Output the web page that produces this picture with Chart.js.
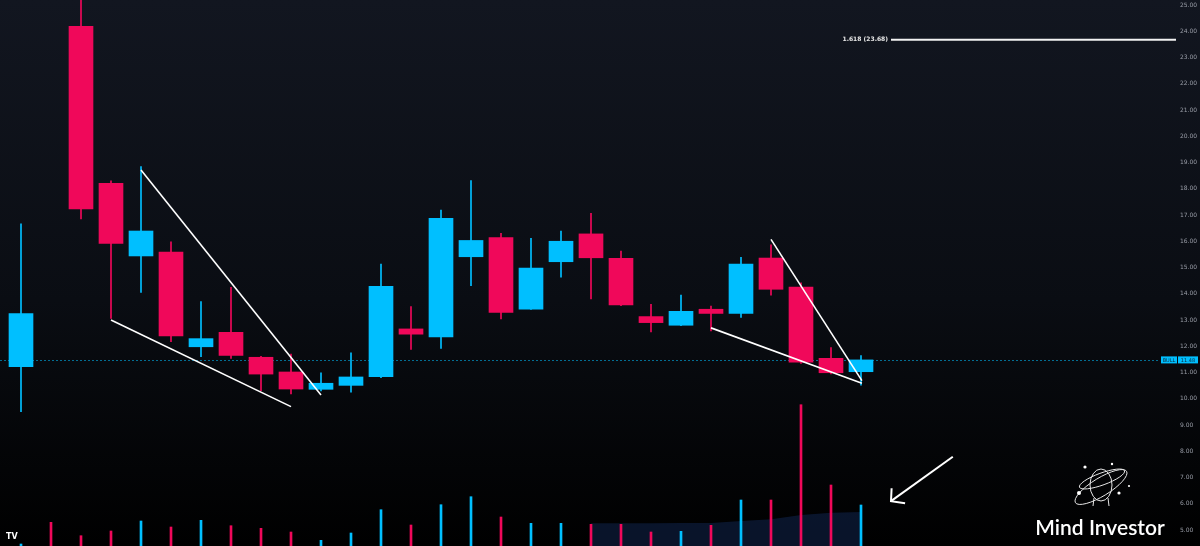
<!DOCTYPE html>
<html lang="en">
<head>
    <meta charset="UTF-8">
    <title>Mind Investor chart</title>
    <script src="https://cdn.jsdelivr.net/npm/chart.js"></script>
    <style>
        html, body {
            margin: 0;
            padding: 0;
            background: #000;
        }
        #wrap {
            width: 1200px;
            height: 546px;
        }
    </style>
</head>
<body>
    <div id="wrap"><canvas id="chart" width="1200" height="546"></canvas></div>

    <script>
        // candle index (x) and OHLC values
        const bars = [0, 1, 2, 3, 4, 5, 6, 7, 8, 9, 10, 11, 12, 13, 14, 15, 16, 17, 18, 19, 20, 21, 22, 23, 24, 25, 26, 27, 28];
        const opens = [11.22, 31.5, 24.19, 18.21, 15.44, 15.59, 11.98, 12.53, 11.58, 11.02, 10.36, 10.51, 10.84, 12.66, 12.36, 15.41, 16.14, 13.41, 15.22, 16.28, 15.35, 13.13, 12.80, 13.41, 13.25, 15.36, 14.25, 11.54, 11.03];
        const highs = [16.66, 33.0, 25.8, 18.3, 18.84, 15.98, 13.70, 14.24, 11.62, 11.70, 10.99, 11.75, 15.13, 13.51, 17.19, 18.31, 16.30, 16.11, 16.39, 17.06, 15.63, 13.60, 13.95, 13.53, 15.39, 15.86, 14.42, 11.95, 11.64];
        const lows = [9.51, 25.6, 16.85, 13.06, 14.05, 12.17, 11.60, 11.54, 10.31, 10.18, 10.30, 10.25, 10.80, 11.88, 11.92, 14.31, 13.04, 13.40, 14.63, 13.80, 13.55, 12.55, 12.78, 12.58, 13.10, 13.95, 11.35, 10.95, 10.52];
        const closes = [13.24, 26.4, 17.23, 15.92, 16.39, 12.39, 12.29, 11.65, 10.94, 10.37, 10.59, 10.83, 14.28, 12.46, 16.87, 16.03, 13.29, 14.98, 16.00, 15.37, 13.57, 12.90, 13.33, 13.25, 15.13, 14.17, 11.39, 10.99, 11.48];
        // volume (thousands) and its moving average
        const volumes = [20, 237, 103, 150, 250, 190, 257, 203, 177, 140, 57, 130, 363, 210, 413, 493, 290, 227, 227, 217, 217, 140, 147, 207, 460, 460, 1413, 610, 410];
        const volMaX = [19, 20, 21, 22, 23, 24, 25, 26, 27, 28];
        const volMa = [227, 227, 227, 230, 230, 250, 267, 310, 333, 340];
        // drawn trendlines [x1, y1, x2, y2]
        const trendLines = [
            [4.0, 18.71, 10.0, 10.14],
            [3.0, 13.0, 9.0, 9.70],
            [25.0, 16.07, 28.03, 10.69],
            [23.0, 12.70, 28.03, 10.59]
        ];
        const fibLevel = 23.68;
        const fibLabel = '1.618 (23.68)';
        const fibRange = [29.0, 38.5];
        const lastPrice = 11.48;
        const arrowTail = [31.06, 7.79];
        const arrowTip = [29.0, 6.10];
        const arrowHeads = [[29.02, 6.59], [29.47, 6.02]];
        const priceTicks = [5, 6, 7, 8, 9, 10, 11, 12, 13, 14, 15, 16, 17, 18, 19, 20, 21, 22, 23, 24, 25];

        const UP = '#00bfff';
        const DOWN = '#f0085a';
        const candleColors = bars.map((i) => closes[i] >= opens[i] ? UP : DOWN);

        const lineDatasets = trendLines.map((t) => ({
            type: 'line',
            data: [{ x: t[0], y: t[1] }, { x: t[2], y: t[3] }],
            borderColor: '#ffffff',
            borderWidth: 1.6,
            pointRadius: 0,
            order: 1
        }));

        const extras = {
            id: 'extras',
            beforeDraw(chart) {
                const ctx = chart.ctx;
                const g = ctx.createLinearGradient(0, 0, 0, chart.height);
                g.addColorStop(0, '#121620');
                g.addColorStop(0.55, '#0a0d13');
                g.addColorStop(1, '#000000');
                ctx.save();
                ctx.fillStyle = g;
                ctx.fillRect(0, 0, chart.width, chart.height);
                ctx.restore();
            },
            beforeDatasetsDraw(chart) {
                const ctx = chart.ctx;
                const y = chart.scales.y;
                const py = Math.round(y.getPixelForValue(lastPrice)) + 0.5;
                ctx.save();
                ctx.strokeStyle = 'rgba(0,191,255,0.55)';
                ctx.lineWidth = 1;
                ctx.setLineDash([2, 2]);
                ctx.beginPath();
                ctx.moveTo(0, py);
                ctx.lineTo(1160, py);
                ctx.stroke();
                ctx.restore();
            },
            afterDraw(chart) {
                const ctx = chart.ctx;
                const x = chart.scales.x;
                const y = chart.scales.y;
                ctx.save();

                // fib label
                ctx.fillStyle = '#e8e8e8';
                ctx.font = 'bold 6px "DejaVu Sans"';
                ctx.textAlign = 'right';
                ctx.textBaseline = 'middle';
                ctx.fillText(fibLabel, x.getPixelForValue(fibRange[0]) - 3, y.getPixelForValue(fibLevel));

                // last price boxes
                const py = y.getPixelForValue(lastPrice);
                ctx.fillStyle = UP;
                ctx.fillRect(1161, py - 3.5, 16, 7);
                ctx.fillRect(1178, py - 3.5, 20, 7);
                ctx.fillStyle = '#0b2a3a';
                ctx.font = '5px "DejaVu Sans"';
                ctx.textAlign = 'center';
                ctx.fillText('BULL', 1169, py + 0.5);
                ctx.fillText(lastPrice.toFixed(2), 1188, py + 0.5);

                // TV logo
                ctx.fillStyle = '#ffffff';
                ctx.font = 'bold 8px "DejaVu Sans"';
                ctx.textAlign = 'left';
                ctx.fillText('TV', 6, 537);

                // Mind Investor logo
                ctx.strokeStyle = '#e6e6e6';
                ctx.lineWidth = 1;
                ctx.beginPath();
                ctx.ellipse(1101, 485, 11, 16, 0, 0, Math.PI * 2);
                ctx.stroke();
                ctx.beginPath();
                ctx.moveTo(1094, 498);
                ctx.lineTo(1093, 506);
                ctx.moveTo(1108, 498);
                ctx.lineTo(1109, 506);
                ctx.stroke();
                ctx.beginPath();
                ctx.ellipse(1101, 487, 30, 9, -0.55, 0, Math.PI * 2);
                ctx.stroke();
                ctx.beginPath();
                ctx.ellipse(1102, 479, 24, 6, -0.35, 0, Math.PI * 2);
                ctx.stroke();
                ctx.fillStyle = '#ffffff';
                [[1085, 467, 1.6], [1112, 464, 1.2], [1079, 493, 2], [1119, 493, 1.6], [1129, 486, 1.1]].forEach((d) => {
                    ctx.beginPath();
                    ctx.arc(d[0], d[1], d[2], 0, Math.PI * 2);
                    ctx.fill();
                });
                ctx.font = '600 21px Lato';
                ctx.textAlign = 'center';
                ctx.textBaseline = 'alphabetic';
                ctx.fillText('Mind Investor', 1100, 535);
                ctx.restore();
            }
        };

        new Chart(document.getElementById('chart'), {
            type: 'bar',
            data: {
                datasets: [
                    {
                        type: 'line',
                        data: volMaX.map((v, k) => ({ x: v, y: volMa[k] })),
                        yAxisID: 'y2',
                        borderWidth: 0,
                        pointRadius: 0,
                        fill: 'origin',
                        backgroundColor: 'rgba(40,90,190,0.22)',
                        order: 10
                    },
                    {
                        data: bars.map((i) => ({ x: i, y: volumes[i] })),
                        yAxisID: 'y2',
                        backgroundColor: candleColors,
                        barThickness: 2,
                        grouped: false,
                        order: 9
                    },
                    {
                        data: bars.map((i) => ({ x: i, y: [lows[i], highs[i]] })),
                        backgroundColor: candleColors,
                        barThickness: 1,
                        grouped: false,
                        order: 5
                    },
                    {
                        data: bars.map((i) => ({ x: i, y: [opens[i], closes[i]] })),
                        backgroundColor: candleColors,
                        barThickness: 24,
                        grouped: false,
                        order: 4
                    },
                    ...lineDatasets,
                    {
                        type: 'line',
                        data: [{ x: fibRange[0], y: fibLevel }, { x: fibRange[1], y: fibLevel }],
                        borderColor: '#f2f2f2',
                        borderWidth: 2,
                        pointRadius: 0,
                        order: 1
                    },
                    {
                        type: 'line',
                        data: [{ x: arrowTail[0], y: arrowTail[1] }, { x: arrowTip[0], y: arrowTip[1] }],
                        borderColor: '#ffffff',
                        borderWidth: 2,
                        pointRadius: 0,
                        order: 1
                    },
                    {
                        type: 'line',
                        data: [
                            { x: arrowHeads[0][0], y: arrowHeads[0][1] },
                            { x: arrowTip[0], y: arrowTip[1] },
                            { x: arrowHeads[1][0], y: arrowHeads[1][1] }
                        ],
                        borderColor: '#ffffff',
                        borderWidth: 2,
                        pointRadius: 0,
                        order: 1
                    }
                ]
            },
            options: {
                responsive: false,
                animation: false,
                devicePixelRatio: 1,
                layout: { padding: 0 },
                plugins: {
                    legend: { display: false },
                    tooltip: { enabled: false }
                },
                scales: {
                    x: {
                        type: 'linear',
                        offset: false,
                        min: -0.7,
                        max: -0.7 + 1176 / 30,
                        display: false
                    },
                    y: {
                        position: 'right',
                        min: 25 - 541 / 26.25,
                        max: 25 + 5 / 26.25,
                        grid: { display: false, drawTicks: false },
                        border: { display: false },
                        afterBuildTicks: (scale) => {
                            scale.ticks = priceTicks.map((v) => ({ value: v }));
                        },
                        afterFit: (scale) => {
                            scale.width = 24;
                            scale.paddingTop = 0;
                            scale.paddingBottom = 0;
                        },
                        ticks: {
                            color: '#9a9ea8',
                            font: { size: 6, family: 'DejaVu Sans' },
                            padding: 4,
                            callback: (v) => Number(v).toFixed(2)
                        }
                    },
                    y2: {
                        display: false,
                        min: 0,
                        max: 5460
                    }
                }
            },
            plugins: [extras]
        });
    </script>
</body>
</html>
